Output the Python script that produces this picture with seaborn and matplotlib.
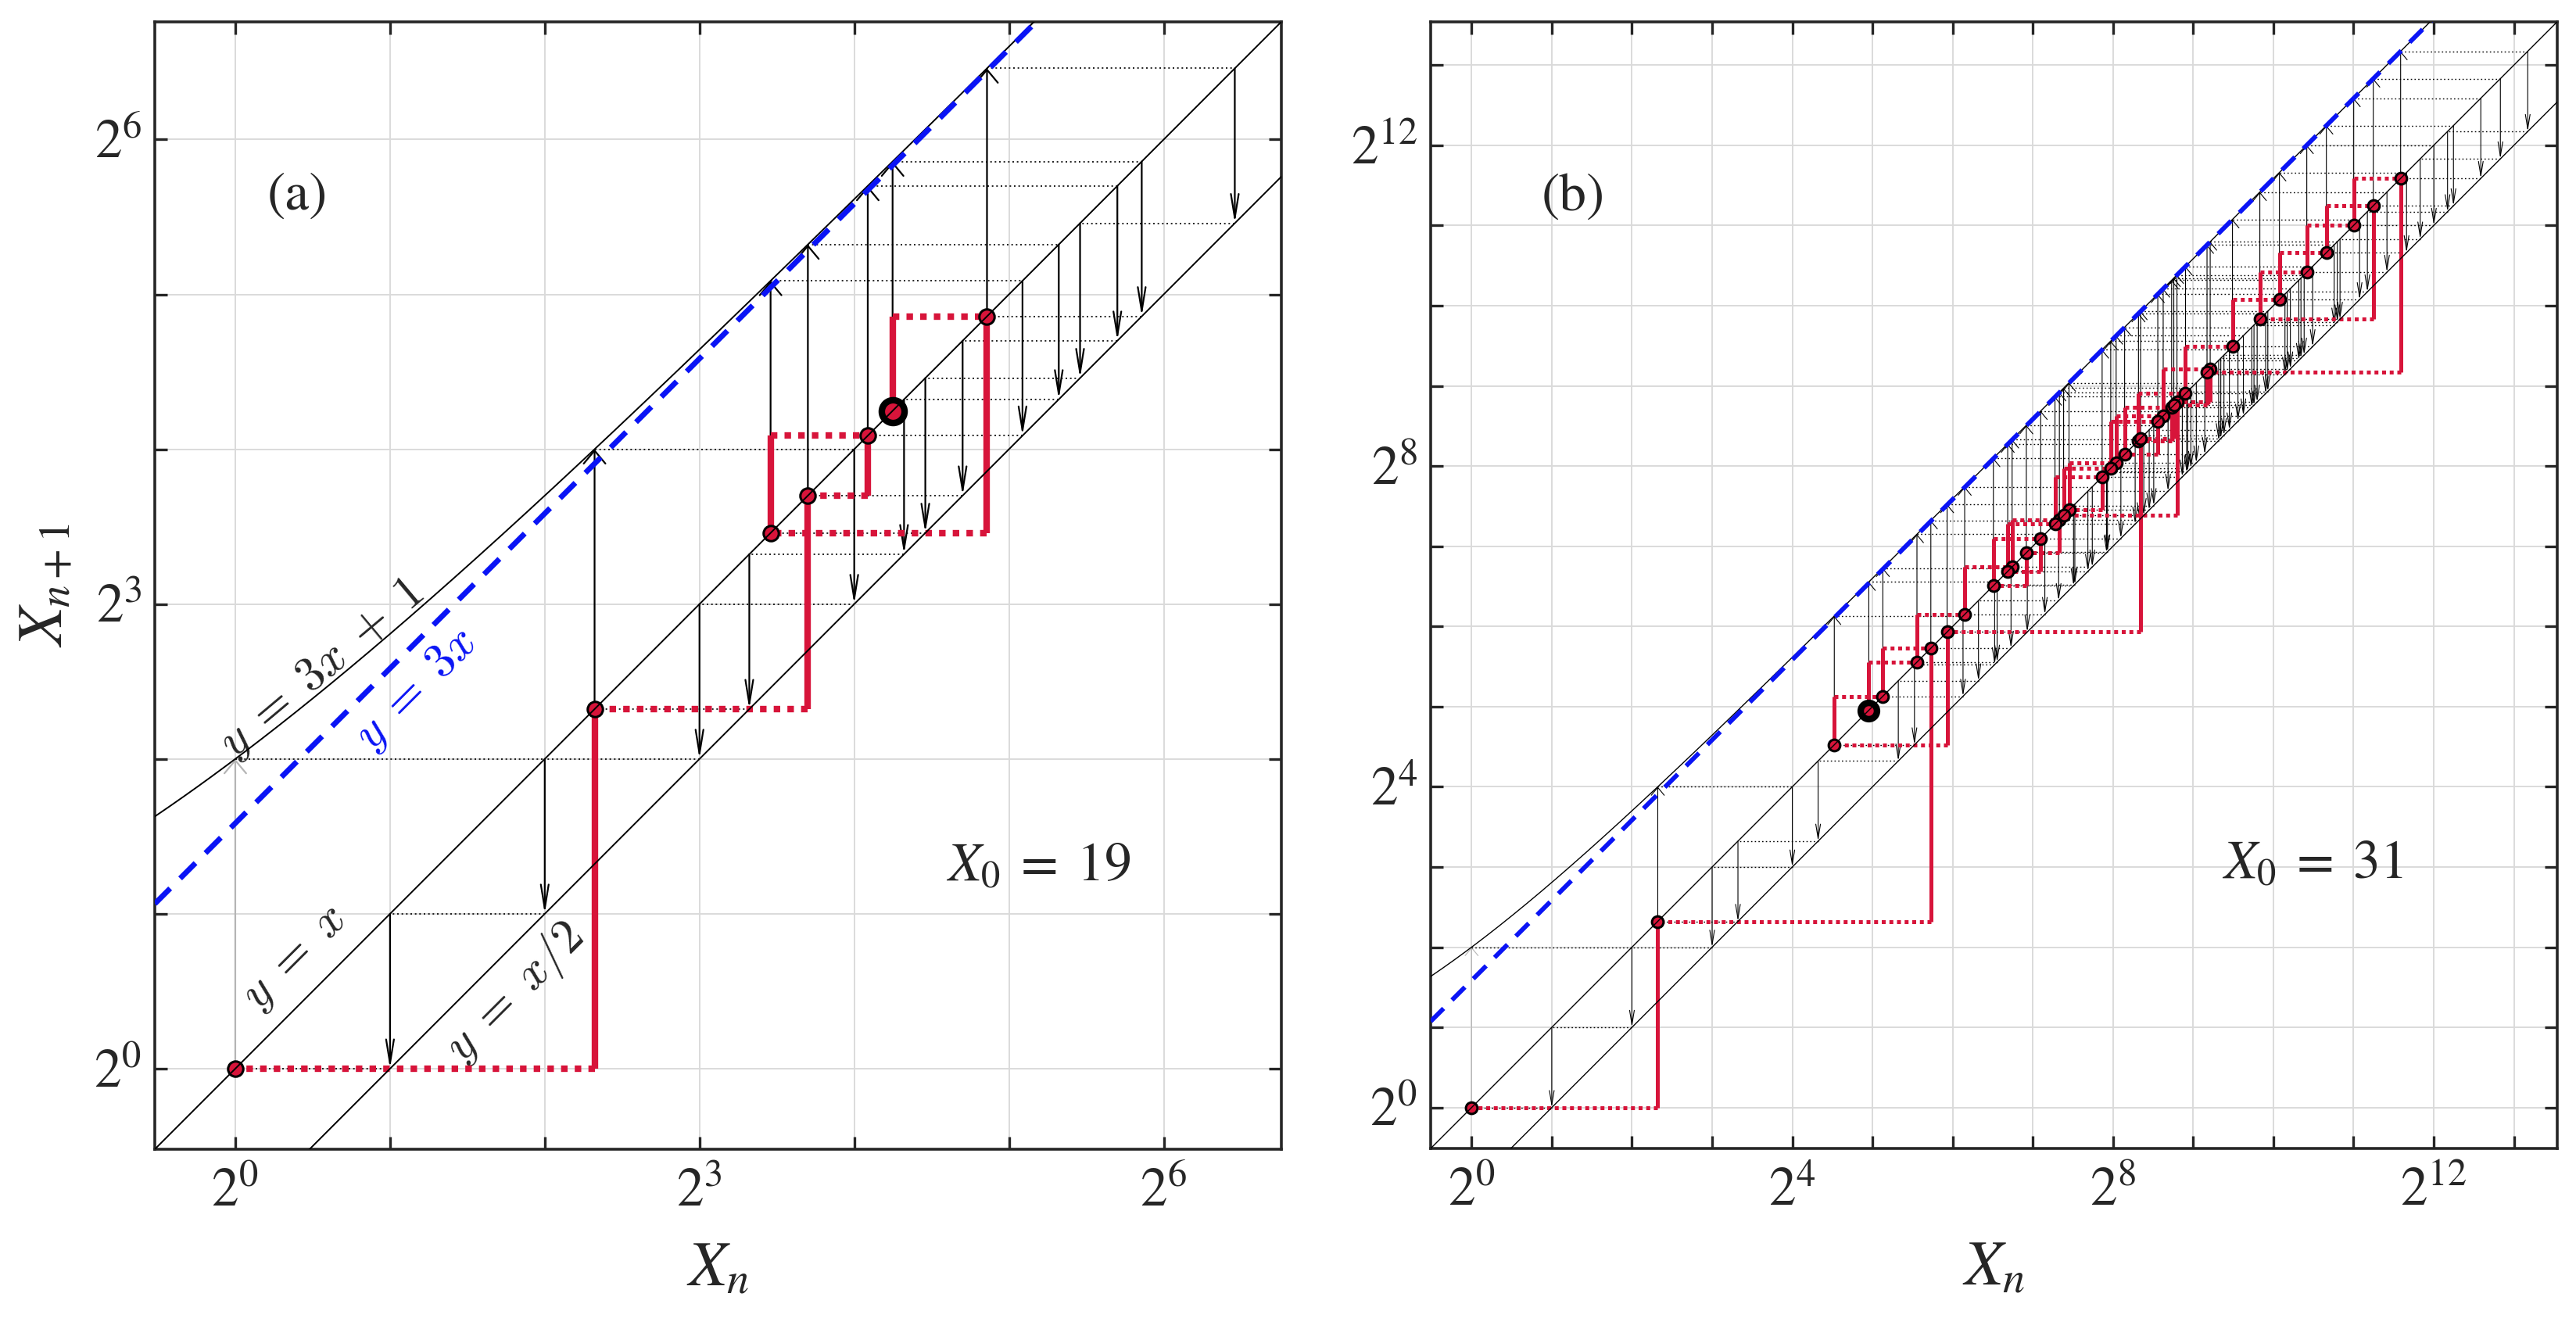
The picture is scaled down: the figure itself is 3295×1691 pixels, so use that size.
import numpy as np
import pandas as pd
import seaborn as sns
import matplotlib.pyplot as plt
from matplotlib.ticker import NullLocator

# Collatz orbits shown in the two panels
seq_19 = [19, 58, 29, 88, 44, 22, 11, 34, 17, 52, 26, 13, 40, 20, 10, 5, 16, 8, 4, 2, 1]
seq_31 = [31, 94, 47, 142, 71, 214, 107, 322, 161, 484, 242, 121, 364, 182, 91,
          274, 137, 412, 206, 103, 310, 155, 466, 233, 700, 350, 175, 526, 263,
          790, 395, 1186, 593, 1780, 890, 445, 1336, 668, 334, 167, 502, 251, 754,
          377, 1132, 566, 283, 850, 425, 1276, 638, 319, 958, 479, 1438, 719, 2158,
          1079, 3238, 1619, 4858, 2429, 7288, 3644, 1822, 911, 2734, 1367, 4102,
          2051, 6154, 3077, 9232, 4616, 2308, 1154, 577, 1732, 866, 433, 1300, 650,
          325, 976, 488, 244, 122, 61, 184, 92, 46, 23, 70, 35, 106, 53, 160, 80,
          40, 20, 10, 5, 16, 8, 4, 2, 1]
loop_step = [1, 4]  # 1 -> 4, drawn in grey

panel_labels = ["(a)", "(b)"]
x0_labels = [r"$X_0\;=\;19$", r"$X_0\;=\;31$"]
lims_a = (-0.52, 6.76)
lims_b = (-0.51, 13.54)
ticks_a = list(range(0, 7))
ticks_b = list(range(0, 14))
label_every_a = 3
label_every_b = 4

RED = "#d7143a"
BLUE = "#0a14f5"

sns.set_style("ticks")
plt.rcParams["font.family"] = ["STIXGeneral", "DejaVu Serif"]
plt.rcParams["mathtext.fontset"] = "stix"


def ref_lines(ax, lims, lw, blue_lw):
    xs = np.logspace(lims[0], lims[1], 400, base=2)
    df = pd.DataFrame({"x": xs, "y1": xs, "y2": xs / 2, "y3": 3 * xs + 1, "y4": 3 * xs})
    sns.lineplot(data=df, x="x", y="y1", color="k", lw=lw, ax=ax, zorder=7)
    sns.lineplot(data=df, x="x", y="y2", color="k", lw=lw, ax=ax, zorder=7)
    sns.lineplot(data=df, x="x", y="y3", color="k", lw=lw, ax=ax, zorder=7)
    sns.lineplot(data=df, x="x", y="y4", color=BLUE, lw=blue_lw, ax=ax, zorder=8)
    ax.lines[-1].set_dashes((4, 2.6))
    ax.set_ylabel("")


def cobweb(ax, seq, lw_k, lw_dot, lw_r, ms, big_ms, up_style, dn_style, mscale, red_dash):
    pairs = list(zip(seq[:-1], seq[1:]))
    # grey step 1 -> 4
    a, b = loop_step
    ax.annotate("", xy=(a, b), xytext=(a, a),
                arrowprops=dict(arrowstyle=up_style, color="#b5b5b5", lw=lw_k,
                                shrinkA=0, shrinkB=0, mutation_scale=mscale), zorder=2)
    ax.plot([a, b], [b, b], color="k", lw=lw_dot, dashes=(1.2, 2.2), zorder=2)
    for a, b in pairs:
        style = up_style if b > a else dn_style
        ax.annotate("", xy=(a, b), xytext=(a, a),
                    arrowprops=dict(arrowstyle=style, color="k", lw=lw_k,
                                    shrinkA=0, shrinkB=0, mutation_scale=mscale), zorder=2)
        ax.plot([a, b], [b, b], color="k", lw=lw_dot, dashes=(1.2, 2.2), zorder=2)

    odd = [v for v in seq if v % 2 == 1]
    for a, b in zip(odd[:-1], odd[1:]):
        ax.plot([a, a], [a, b], color=RED, lw=lw_r, solid_capstyle="butt", zorder=4)
        ax.plot([a, b], [b, b], color=RED, lw=lw_r, dashes=red_dash,
                dash_capstyle="butt", zorder=4)
    sns.scatterplot(x=odd, y=odd, s=ms ** 2, color=RED, edgecolor="k",
                    linewidth=1.1, ax=ax, zorder=6)
    sns.scatterplot(x=[seq[0]], y=[seq[0]], s=big_ms ** 2, color=RED, edgecolor="k",
                    linewidth=3, ax=ax, zorder=6)


def style_axes(ax, lims, ticks, every):
    ax.set_xscale("log", base=2)
    ax.set_yscale("log", base=2)
    ax.set_xlim(2.0 ** lims[0], 2.0 ** lims[1])
    ax.set_ylim(2.0 ** lims[0], 2.0 ** lims[1])
    tv = [2.0 ** k for k in ticks]
    labs = [rf"$2^{{{k}}}$" if k % every == 0 else "" for k in ticks]
    ax.set_xticks(tv, labels=labs)
    ax.set_yticks(tv, labels=labs)
    ax.xaxis.set_minor_locator(NullLocator())
    ax.yaxis.set_minor_locator(NullLocator())
    ax.grid(True, which="major", color="#dadada", lw=0.7, zorder=0)
    ax.set_axisbelow(True)
    ax.tick_params(direction="in", top=True, right=True, length=5.8, width=1.2,
                   labelsize=25)
    ax.tick_params(axis="x", pad=9)
    ax.tick_params(axis="y", pad=6)
    for s in ax.spines.values():
        s.set_linewidth(1.3)
    ax.set_xlabel(r"$X_n$", fontsize=29, va="center")
    ax.xaxis.set_label_coords(0.5, -0.108)


fig = plt.figure(figsize=(16.475, 8.455), dpi=200)
ax1 = fig.add_axes([0.0601, 0.1307, 0.4373, 0.8528])
ax2 = fig.add_axes([0.5554, 0.1313, 0.4373, 0.8522])

# panel (a)
style_axes(ax1, lims_a, ticks_a, label_every_a)
ref_lines(ax1, lims_a, 0.7, 2.5)
cobweb(ax1, seq_19, 0.8, 0.6, 3.0, 7, 10.5,
       "->,head_length=0.3,head_width=0.25", "->,head_length=0.55,head_width=0.09",
       20, (1, 1.1))
ax1.set_ylabel(r"$X_{n+1}$", fontsize=29, va="center")
ax1.yaxis.set_label_coords(-0.095, 0.5)
ax1.text(2 ** 0.40, 2 ** 5.63, panel_labels[0], fontsize=25, ha="center", va="center")
ax1.text(2 ** 5.19, 2 ** 1.30, x0_labels[0], fontsize=25, ha="center", va="center")
ax1.text(2 ** 0.56, 2 ** 2.58, r"$y\;=\;3x\;+\;1$", fontsize=22, rotation=40,
         ha="center", va="center", math_fontfamily="cm")
ax1.text(2 ** 1.17, 2 ** 2.45, r"$y\;=\;3x$", fontsize=22, rotation=45, color=BLUE,
         ha="center", va="center", math_fontfamily="cm")
ax1.text(2 ** 0.39, 2 ** 0.71, r"$y\;=\;x$", fontsize=22, rotation=45,
         ha="center", va="center", math_fontfamily="cm")
ax1.text(2 ** 1.81, 2 ** 0.49, r"$y\;=\;x/2$", fontsize=22, rotation=45,
         ha="center", va="center", math_fontfamily="cm")

# panel (b)
style_axes(ax2, lims_b, ticks_b, label_every_b)
ref_lines(ax2, lims_b, 0.5, 2.1)
cobweb(ax2, seq_31, 0.4, 0.5, 1.8, 5.3, 7.5,
       "->,head_length=0.3,head_width=0.25", "->,head_length=0.55,head_width=0.09",
       12, (1, 0.95))
ax2.set_ylabel("")
ax2.text(2 ** 1.27, 2 ** 11.35, panel_labels[1], fontsize=25, ha="center", va="center")
ax2.text(2 ** 10.49, 2 ** 3.02, x0_labels[1], fontsize=25, ha="center", va="center")

fig.savefig("out.png", dpi=200)
